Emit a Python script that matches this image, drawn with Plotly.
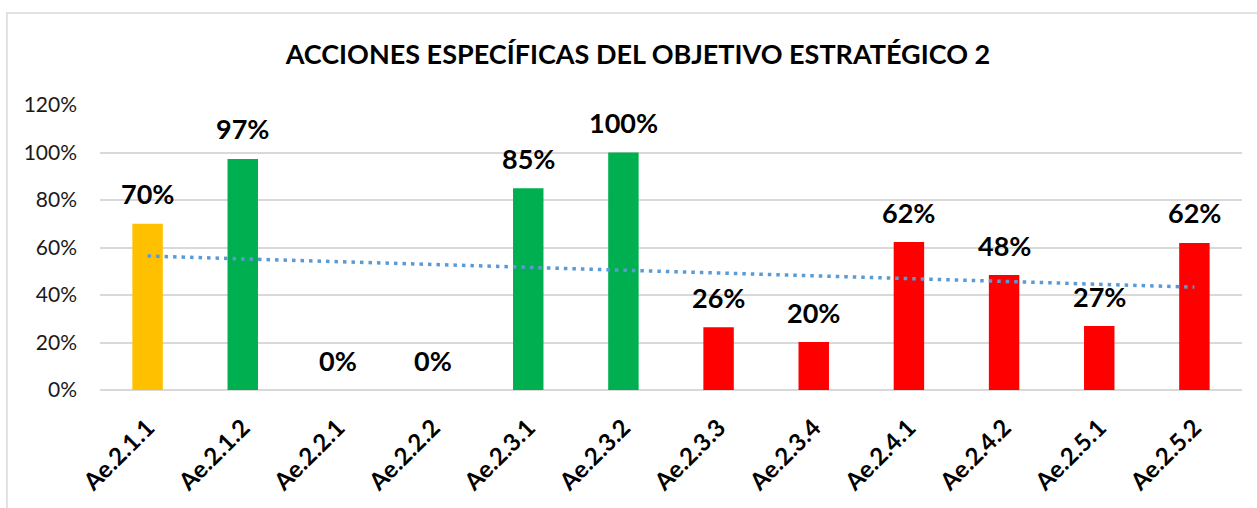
import numpy as np
import plotly.graph_objects as go

categories = ["Ae.2.1.1", "Ae.2.1.2", "Ae.2.2.1", "Ae.2.2.2", "Ae.2.3.1", "Ae.2.3.2",
              "Ae.2.3.3", "Ae.2.3.4", "Ae.2.4.1", "Ae.2.4.2", "Ae.2.5.1", "Ae.2.5.2"]
values = [0.70, 0.973, 0.0, 0.0, 0.85, 1.00, 0.264, 0.202, 0.623, 0.484, 0.269, 0.619]
colors = ["#FFC000", "#00B050", "#00B050", "#00B050", "#00B050", "#00B050",
          "#FF0000", "#FF0000", "#FF0000", "#FF0000", "#FF0000", "#FF0000"]
title = "ACCIONES ESPECÍFICAS DEL OBJETIVO ESTRATÉGICO 2"

# linear trendline (least squares, like Excel)
xi = np.arange(1, len(values) + 1)
slope, intercept = np.polyfit(xi, values, 1)
trend = slope * xi + intercept

FONT = "Lato"

fig = go.Figure()
fig.add_trace(go.Bar(
    x=categories, y=values, marker=dict(color=colors, line=dict(width=0)),
    width=0.32, showlegend=False, hoverinfo="skip"))
fig.add_trace(go.Scatter(
    x=categories, y=trend, mode="lines",
    line=dict(color="#5B9BD5", width=3.5, dash="3.5px,5px"),
    showlegend=False, hoverinfo="skip"))

for c, v in zip(categories, values):
    fig.add_annotation(x=c, y=v, text="<b>%d%%</b>" % round(v * 100),
                       showarrow=False, yshift=30, yanchor="middle",
                       font=dict(family=FONT, size=27, color="#000000"))

fig.add_shape(type="rect", xref="paper", yref="paper",
              x0=-0.0815, x1=1.02, y0=-0.5, y1=1.3228,
              line=dict(color="#D9D9D9", width=1.5), fillcolor="rgba(0,0,0,0)",
              layer="below")

fig.update_layout(
    width=1257, height=508,
    margin=dict(l=100, r=15, t=105, b=118),
    paper_bgcolor="white", plot_bgcolor="white",
    title=dict(text="<b>" + title + "</b>", x=0.5075, xanchor="center",
               y=1 - 55 / 508, yanchor="middle",
               font=dict(family=FONT, size=27, color="#000000")),
    xaxis=dict(type="category", tickangle=-45, showgrid=False, showline=False,
               automargin=False, ticks="", ticklabelstandoff=18,
               tickfont=dict(family=FONT, size=24, color="#000000"),
               tickprefix="<b>", ticksuffix="</b>"),
    yaxis=dict(range=[0, 1.2], dtick=0.2, tickformat=".0%", showgrid=True,
               automargin=False,
               gridcolor="#D9D9D9", gridwidth=1.5, zeroline=True,
               zerolinecolor="#D9D9D9", zerolinewidth=1.5, showline=False,
               ticks="", ticklabelstandoff=22,
               tickfont=dict(family=FONT, size=21, color="#1a1a1a")),
)

fig.write_html("out.html", config={"displayModeBar": False},
               post_script="document.body.style.margin='0';")
